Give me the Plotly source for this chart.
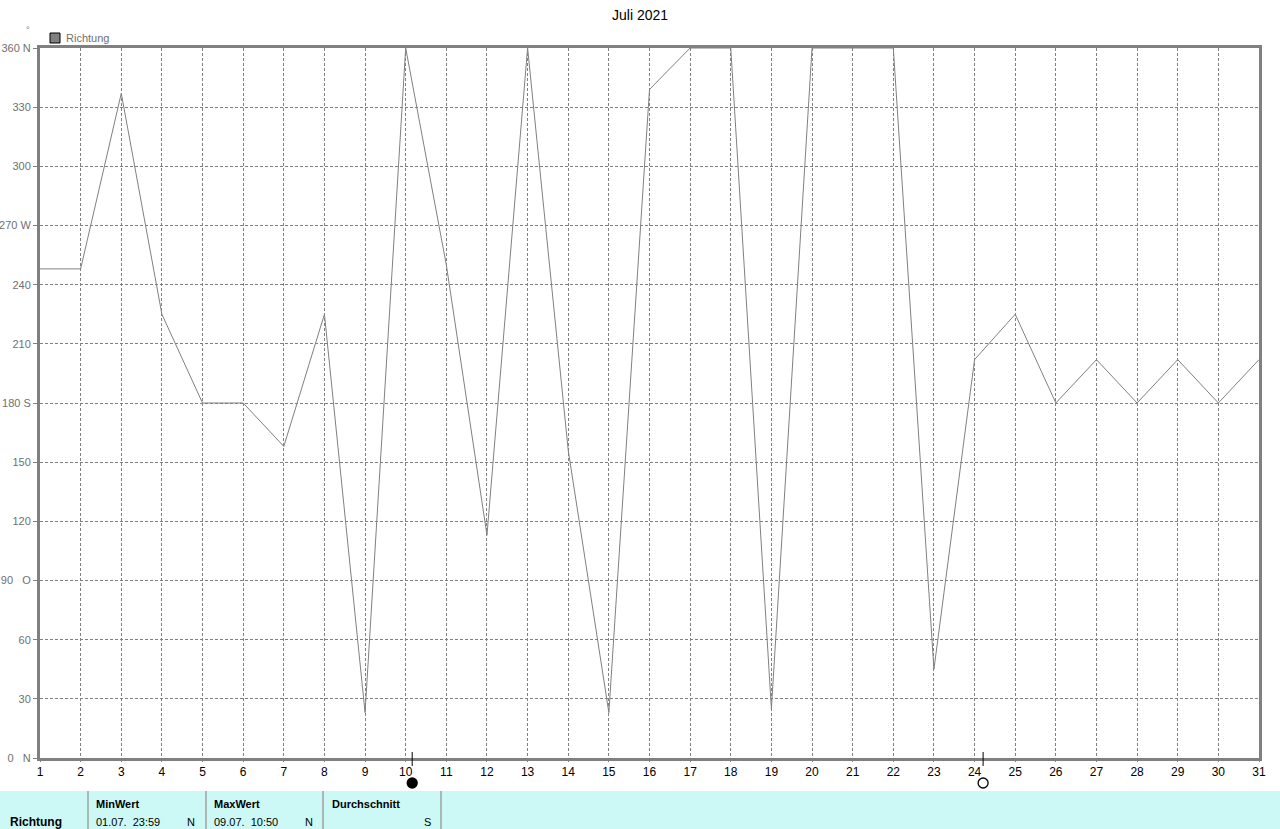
import plotly.graph_objects as go

days = list(range(1, 32))
richtung = [248, 248, 337, 225, 180, 180, 158, 225, 23, 360, 250, 113, 360, 156, 23,
            339, 360, 360, 25, 360, 360, 360, 45, 202, 225, 180, 202, 180, 202, 180, 202]
ytick_vals = [0, 30, 60, 90, 120, 150, 180, 210, 240, 270, 300, 330, 360]
ytick_text = ["0   N", "30", "60", "90   O", "120", "150", "180 S", "210", "240", "270 W", "300", "330", "360 N"]
xtick_vals = days
moon_days = [10.16, 24.21]
moon_fill = ["black", "white"]
title = "Juli 2021"
series_name = "Richtung"
table_head = ["MinWert", "MaxWert", "Durchschnitt"]
table_vals = ["01.07.  23:59", "09.07.  10:50", ""]
table_dir = ["N", "N", "S"]

W, H = 1280, 829
L, R, T, B = 40, 1259, 48, 758

def px(x):
    return (x - L) / (R - L)

def py(y):
    return (B - y) / (B - T)

FONT = "Liberation Sans, Arial, sans-serif"

fig = go.Figure()
fig.add_trace(go.Scatter(x=days, y=richtung, mode="lines",
                         line=dict(color="#808080", width=1), showlegend=False, cliponaxis=True))

shapes = []
for d, fc in zip(moon_days, moon_fill):
    shapes.append(dict(type="line", xref="x", yref="paper", x0=d, x1=d, y0=py(752), y1=py(766),
                       line=dict(color="black", width=1)))
    shapes.append(dict(type="circle", xref="x", yref="paper", xsizemode="pixel", ysizemode="pixel",
                       xanchor=d, yanchor=py(783), x0=-5, x1=5, y0=-5, y1=5,
                       fillcolor=fc, line=dict(color="black", width=1.3)))

# table
shapes.append(dict(type="rect", xref="paper", yref="paper", x0=px(0), x1=px(W), y0=py(791), y1=py(829),
                   fillcolor="#CCF8F6", line=dict(width=0), layer="below"))
for xs in [88, 206, 323, 441]:
    shapes.append(dict(type="line", xref="paper", yref="paper", x0=px(xs), x1=px(xs), y0=py(791), y1=py(829),
                       line=dict(color="#A0A0A0", width=1.5)))
# legend square
shapes.append(dict(type="rect", xref="paper", yref="paper", x0=px(50), x1=px(60), y0=py(33), y1=py(43),
                   fillcolor="#808080", line=dict(color="black", width=1)))

ann = []
ann.append(dict(text=title, x=px(640), y=py(15), xref="paper", yref="paper", showarrow=False,
                font=dict(family=FONT, size=14, color="black"), xanchor="center", yanchor="middle"))
ann.append(dict(text=series_name, x=px(64), y=py(38), xref="paper", yref="paper", showarrow=False,
                font=dict(family=FONT, size=11, color="#707070"), xanchor="left", yanchor="middle"))
ann.append(dict(text="°", x=px(28), y=py(30), xref="paper", yref="paper", showarrow=False,
                font=dict(family=FONT, size=9, color="#707070"), xanchor="center", yanchor="middle"))
ann.append(dict(text="<b>Richtung</b>", x=px(8), y=py(822), xref="paper", yref="paper", showarrow=False,
                font=dict(family=FONT, size=12, color="black"), xanchor="left", yanchor="middle"))
col_x = [94, 212, 330]
col_r = [197, 315, 433]
for i in range(3):
    ann.append(dict(text="<b>" + table_head[i] + "</b>", x=px(col_x[i]), y=py(804), xref="paper", yref="paper",
                    showarrow=False, font=dict(family=FONT, size=11, color="black"), xanchor="left", yanchor="middle"))
    if table_vals[i]:
        ann.append(dict(text=table_vals[i], x=px(col_x[i]), y=py(822), xref="paper", yref="paper",
                        showarrow=False, font=dict(family=FONT, size=11, color="black"), xanchor="left", yanchor="middle"))
    ann.append(dict(text=table_dir[i], x=px(col_r[i]), y=py(822), xref="paper", yref="paper",
                    showarrow=False, font=dict(family=FONT, size=11, color="black"), xanchor="right", yanchor="middle"))

fig.update_layout(
    width=W, height=H,
    margin=dict(l=L, r=W - R, t=T, b=H - B, pad=0, autoexpand=False),
    paper_bgcolor="white", plot_bgcolor="white",
    shapes=shapes, annotations=ann,
    xaxis=dict(range=[1, 31], tickvals=xtick_vals, ticktext=[str(d) for d in xtick_vals],
               showgrid=True, gridcolor="#808080", griddash="3px,2px", gridwidth=1,
               showline=True, linecolor="#808080", linewidth=3, mirror=True,
               ticks="outside", ticklen=1, tickcolor="#808080", automargin=False,
               tickfont=dict(family=FONT, size=12, color="black"), zeroline=False, fixedrange=True),
    yaxis=dict(range=[0, 360], tickvals=ytick_vals, ticktext=ytick_text,
               showgrid=True, gridcolor="#808080", griddash="3px,2px", gridwidth=1,
               showline=True, linecolor="#808080", linewidth=3, mirror=True,
               ticks="outside", ticklen=4, tickcolor="#808080", automargin=False,
               tickfont=dict(family=FONT, size=11, color="#707070"), zeroline=False, fixedrange=True),
    showlegend=False,
)

fig.write_html("out.html", config=dict(displayModeBar=False),
               post_script="document.body.style.margin='0';document.body.style.overflow='hidden';")
